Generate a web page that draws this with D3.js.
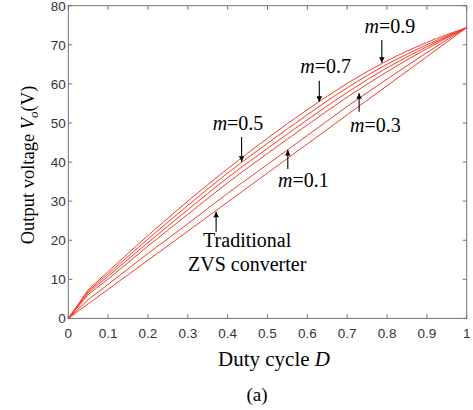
<!DOCTYPE html>
<html>
<head>
<meta charset="utf-8">
<script src="https://cdn.jsdelivr.net/npm/d3@7"></script>
<style>
  body { margin: 0; background: #fff; }
  svg { display: block; }
</style>
</head>
<body>
<svg id="chart" width="473" height="410"></svg>
<script>
// Output voltage vs. duty cycle for the traditional ZVS converter and several m values
const dutyCycle    = [0, 0.05, 0.1, 0.2, 0.3, 0.4, 0.5, 0.6, 0.7, 0.8, 0.9, 1.0];
const vTraditional = [0, 3.72, 7.44, 14.88, 22.32, 29.76, 37.2, 44.64, 52.08, 59.52, 66.96, 74.4];
const vM01 = [0, 4.8, 8.7, 16.6, 24.2, 32.0, 39.4, 46.8, 54.2, 61.2, 68.0, 74.4];
const vM03 = [0, 6.1, 10.1, 18.5, 26.6, 34.7, 42.2, 49.5, 56.6, 63.1, 69.0, 74.4];
const vM05 = [0, 6.6, 10.8, 19.4, 27.8, 36.0, 43.5, 50.8, 57.8, 64.1, 69.5, 74.4];
const vM07 = [0, 7.0, 11.4, 20.3, 28.9, 37.2, 44.8, 52.1, 59.0, 65.0, 70.0, 74.4];
const vM09 = [0, 7.3, 12.0, 21.2, 30.0, 38.3, 46.1, 53.4, 60.1, 65.9, 70.6, 74.4];

const seriesList = [vTraditional, vM01, vM03, vM05, vM07, vM09];

const xTicks = [0, 0.1, 0.2, 0.3, 0.4, 0.5, 0.6, 0.7, 0.8, 0.9, 1];
const xTickLabels = ["0", "0.1", "0.2", "0.3", "0.4", "0.5", "0.6", "0.7", "0.8", "0.9", "1"];
const yTicks = [0, 10, 20, 30, 40, 50, 60, 70, 80];
const yTickLabels = ["0", "10", "20", "30", "40", "50", "60", "70", "80"];

// Annotation labels: text anchor (D, V) and arrow from tail to tip in data units
const annotations = [
  { m: "0.9", tx: 0.807, ty: 73.0, ax: 0.787, from: 71.2, to: 65.4 },
  { m: "0.7", tx: 0.646, ty: 62.8, ax: 0.630, from: 60.8, to: 55.4 },
  { m: "0.5", tx: 0.426, ty: 48.2, ax: 0.435, from: 46.4, to: 40.1 },
  { m: "0.1", tx: 0.590, ty: 33.7, ax: 0.551, from: 38.2, to: 43.1 },
  { m: "0.3", tx: 0.771, ty: 47.8, ax: 0.730, from: 52.9, to: 57.6 }
];
const tradLabel = { lines: ["Traditional", "ZVS converter"], tx: 0.449, ty: [18.3, 12.2], ax: 0.371, from: 22.2, to: 27.3 };

const margin = { left: 68.3, right: 6.3, top: 5.7, bottom: 91.6 };
const W = 473, H = 410;
const svg = d3.select("#chart");

const x = d3.scaleLinear().domain([0, 1]).range([margin.left, W - margin.right]);
const y = d3.scaleLinear().domain([0, 80]).range([H - margin.bottom, margin.top]);

const axisColor = "#707070";
const tickLen = 4;

// frame
svg.append("rect")
  .attr("x", x(0)).attr("y", y(80))
  .attr("width", x(1) - x(0)).attr("height", y(0) - y(80))
  .attr("fill", "none").attr("stroke", axisColor).attr("stroke-width", 1);

// inward ticks on all four sides
const tickG = svg.append("g").attr("stroke", axisColor).attr("stroke-width", 1);
xTicks.forEach(t => {
  tickG.append("line").attr("x1", x(t)).attr("x2", x(t)).attr("y1", y(0)).attr("y2", y(0) - tickLen);
  tickG.append("line").attr("x1", x(t)).attr("x2", x(t)).attr("y1", y(80)).attr("y2", y(80) + tickLen);
});
yTicks.forEach(t => {
  tickG.append("line").attr("x1", x(0)).attr("x2", x(0) + tickLen).attr("y1", y(t)).attr("y2", y(t));
  tickG.append("line").attr("x1", x(1)).attr("x2", x(1) - tickLen).attr("y1", y(t)).attr("y2", y(t));
});

// tick labels
const tickFont = "'Liberation Sans', Arial, sans-serif";
svg.append("g").selectAll("text").data(xTicks).join("text")
  .attr("x", d => x(d)).attr("y", y(0) + 19.5)
  .attr("text-anchor", "middle")
  .attr("font-family", tickFont).attr("font-size", 13.5).attr("fill", "#333")
  .text((d, i) => xTickLabels[i]);
svg.append("g").selectAll("text").data(yTicks).join("text")
  .attr("x", x(0) - 2.5).attr("y", d => y(d) + 4.8)
  .attr("text-anchor", "end")
  .attr("font-family", tickFont).attr("font-size", 13.5).attr("fill", "#333")
  .text((d, i) => yTickLabels[i]);

// curves: straight rise from the origin to the knee, smooth beyond it
const smooth = d3.line()
  .x(p => x(p[0]))
  .y(p => y(p[1]))
  .curve(d3.curveMonotoneX);
function curvePath(values) {
  const pts = values.map((v, i) => [dutyCycle[i], v]);
  const rest = smooth(pts.slice(1));
  return "M" + x(pts[0][0]) + "," + y(pts[0][1]) + "L" + rest.slice(1);
}
svg.append("g").selectAll("path").data(seriesList).join("path")
  .attr("d", curvePath)
  .attr("fill", "none")
  .attr("stroke", "#f53c28")
  .attr("stroke-width", 1)
  .attr("stroke-linejoin", "round");

// arrowhead
svg.append("defs").append("marker")
  .attr("id", "head")
  .attr("viewBox", "0 0 10 10")
  .attr("refX", 10).attr("refY", 5)
  .attr("markerWidth", 7).attr("markerHeight", 5.5)
  .attr("markerUnits", "userSpaceOnUse")
  .attr("orient", "auto")
  .append("path").attr("d", "M0,0 L10,5 L0,10 Z").attr("fill", "#000");

const serif = "'Liberation Serif', 'Times New Roman', serif";
const annoSize = 20;

function arrow(ax, from, to) {
  svg.append("line")
    .attr("x1", x(ax)).attr("x2", x(ax))
    .attr("y1", y(from)).attr("y2", y(to))
    .attr("stroke", "#000").attr("stroke-width", 1.1)
    .attr("marker-end", "url(#head)");
}

annotations.forEach(a => {
  const t = svg.append("text")
    .attr("x", x(a.tx)).attr("y", y(a.ty))
    .attr("text-anchor", "middle")
    .attr("font-family", serif).attr("font-size", annoSize).attr("fill", "#000");
  t.append("tspan").attr("font-style", "italic").text("m");
  t.append("tspan").text("=" + a.m);
  arrow(a.ax, a.from, a.to);
});

tradLabel.lines.forEach((s, i) => {
  svg.append("text")
    .attr("x", x(tradLabel.tx)).attr("y", y(tradLabel.ty[i]))
    .attr("text-anchor", "middle")
    .attr("font-family", serif).attr("font-size", annoSize).attr("fill", "#000")
    .text(s);
});
arrow(tradLabel.ax, tradLabel.from, tradLabel.to);

// axis titles
const xt = svg.append("text")
  .attr("x", 274).attr("y", 366)
  .attr("text-anchor", "middle")
  .attr("font-family", serif).attr("font-size", 21).attr("fill", "#000");
xt.append("tspan").text("Duty cycle ");
xt.append("tspan").attr("font-style", "italic").text("D");

const yt = svg.append("text")
  .attr("transform", "translate(34,165) rotate(-90)")
  .attr("text-anchor", "middle")
  .attr("font-family", serif).attr("font-size", 18.5).attr("fill", "#000");
yt.append("tspan").text("Output voltage ");
yt.append("tspan").attr("font-style", "italic").text("V");
yt.append("tspan").attr("font-style", "italic").attr("font-size", 13).attr("dy", 4).text("o");
yt.append("tspan").attr("dy", -4).text("(V)");

svg.append("text")
  .attr("x", 257).attr("y", 401)
  .attr("text-anchor", "middle")
  .attr("font-family", serif).attr("font-size", 19).attr("fill", "#000")
  .text("(a)");
</script>
</body>
</html>
